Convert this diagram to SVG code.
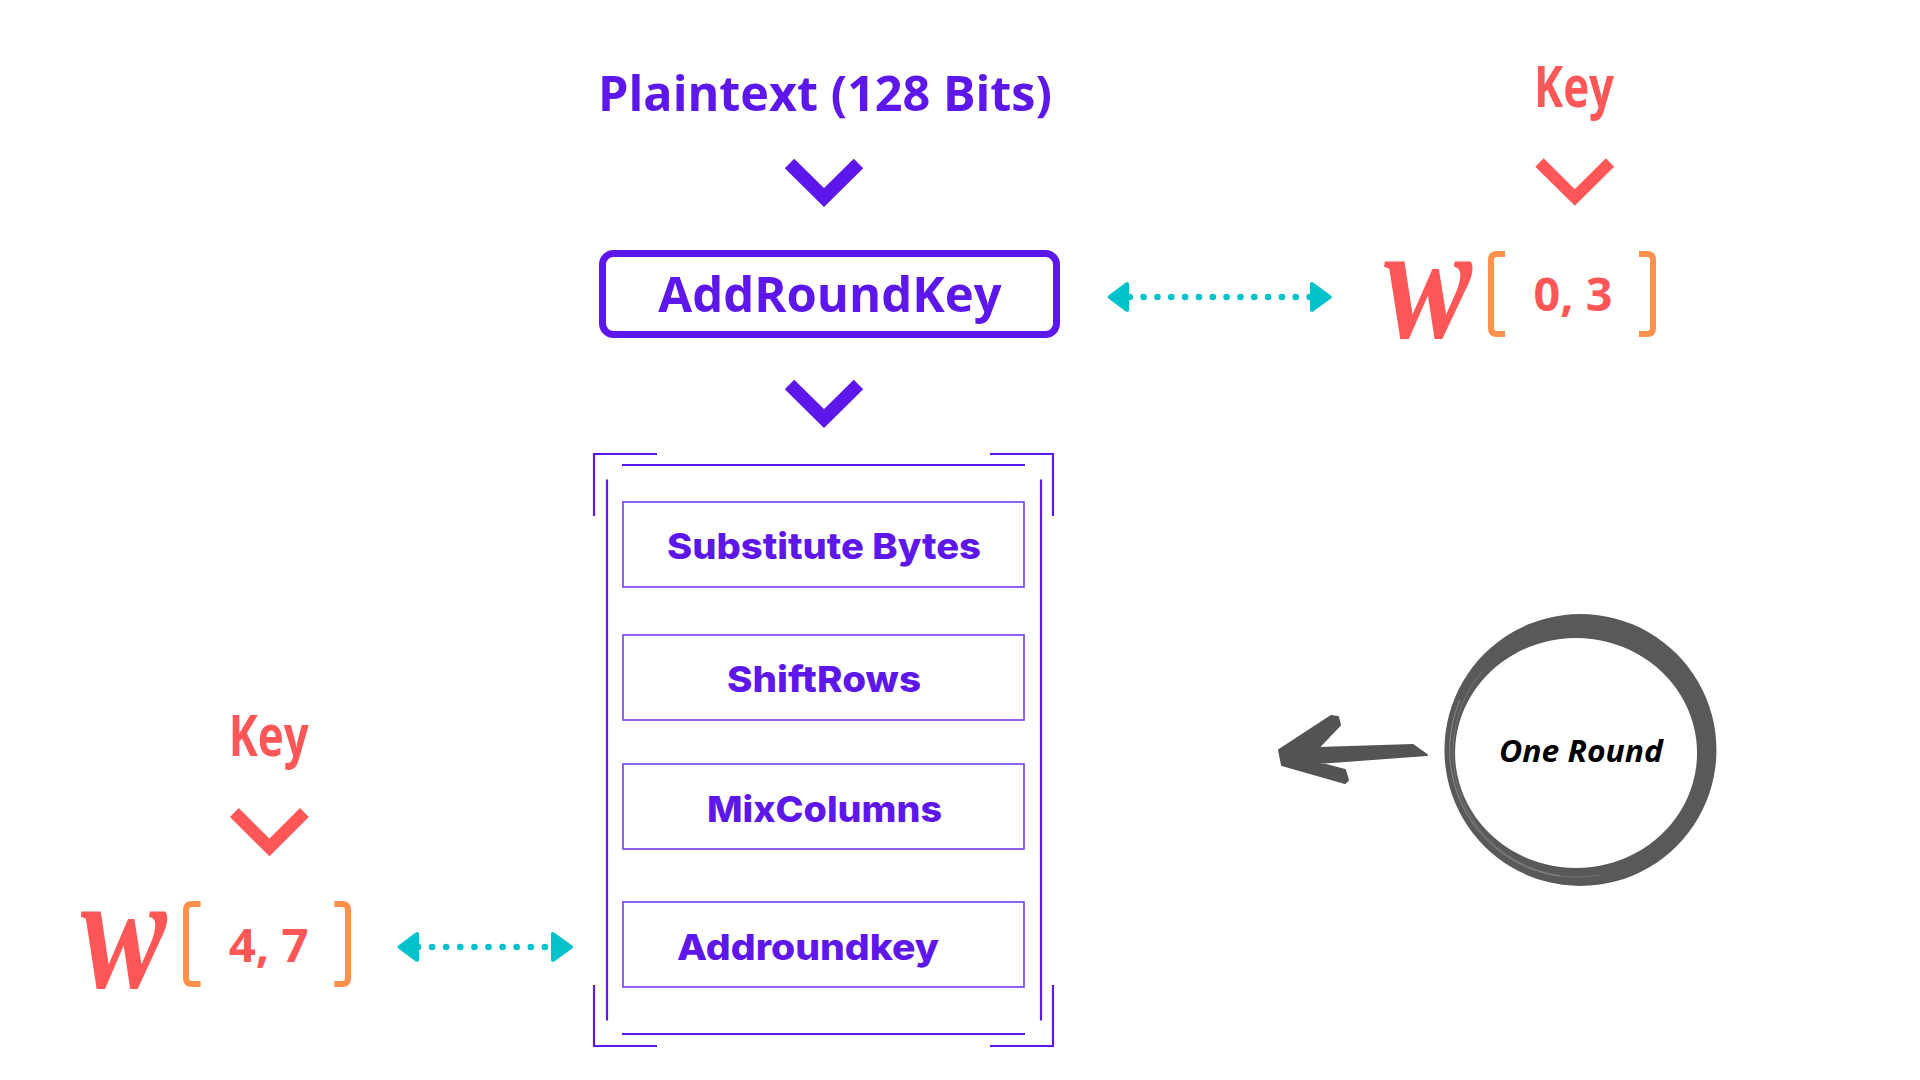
<svg xmlns="http://www.w3.org/2000/svg" width="1920" height="1080" viewBox="0 0 1920 1080">
<style>
.pt{font-family:"Open Sans","Liberation Sans",sans-serif;font-weight:700;fill:#5e17eb;text-anchor:middle}
.st{font-family:Inter,"Liberation Sans",sans-serif;font-weight:800;fill:#5e17eb;text-anchor:middle;font-size:36px}
.box{fill:none;stroke:#5e17eb;stroke-width:1.6;opacity:.85}
.frame{fill:none;stroke:#5e17eb;stroke-width:2.2}
.chev{fill:none;stroke-linejoin:miter;stroke-linecap:butt;stroke-miterlimit:10}
.key{font-family:"Open Sans","Liberation Sans",sans-serif;font-weight:700;fill:#ff5757;text-anchor:middle;font-size:58px}
.w{font-family:"Liberation Serif",serif;font-weight:700;font-style:italic;fill:#ff5757;text-anchor:middle;font-size:165px}
.br{fill:none;stroke:#ff914d;stroke-width:6;stroke-linejoin:round}
.num{font-family:"Open Sans","Liberation Sans",sans-serif;font-weight:700;fill:#ff5757;text-anchor:middle;font-size:47px}
.dots{fill:none;stroke:#00c2cb;stroke-width:6.6;stroke-linecap:round}
.ah{fill:#00c2cb;stroke:#00c2cb;stroke-width:4;stroke-linejoin:round}
</style>
<rect width="1920" height="1080" fill="#ffffff"/>

<g id="plaintext">
<text class="pt" x="825" y="111" font-size="48.5">Plaintext (128 Bits)</text>
</g>

<g id="addroundkey-initial">
<rect x="602.5" y="253.5" width="454" height="81" rx="11" fill="none" stroke="#5e17eb" stroke-width="7"/>
<text class="pt" x="830" y="312" font-size="49">AddRoundKey</text>
</g>

<g id="round-frame">
<path class="frame" d="M594,516 V454 H657 M990,454 H1053 V516 M594,985 V1046 H657 M990,1046 H1053 V985"/>
<path class="frame" d="M622,465 H1025 M622,1034 H1025 M607,479.5 V1020.5 M1041,479.5 V1020.5"/>
</g>

<g id="substitute-bytes">
<rect class="box" x="623" y="502" width="401" height="85"/>
<text class="st" x="824" y="559.4" textLength="314" lengthAdjust="spacingAndGlyphs">Substitute Bytes</text>
</g>
<g id="shiftrows">
<rect class="box" x="623" y="635" width="401" height="85"/>
<text class="st" x="824" y="692" textLength="194" lengthAdjust="spacingAndGlyphs">ShiftRows</text>
</g>
<g id="mixcolumns">
<rect class="box" x="623" y="764" width="401" height="85"/>
<text class="st" x="824.5" y="821.6" textLength="235" lengthAdjust="spacingAndGlyphs">MixColumns</text>
</g>
<g id="addroundkey-round">
<rect class="box" x="623" y="902" width="401" height="85"/>
<text class="st" x="808" y="960" textLength="262" lengthAdjust="spacingAndGlyphs">Addroundkey</text>
</g>

<g id="key-top">
<text class="key" x="1574" y="107" textLength="80" lengthAdjust="spacingAndGlyphs">Key</text>
<polyline class="chev" points="1539.5,162.5 1574.8,197.5 1610,162.5" stroke="#ff5757" stroke-width="11.7"/>
</g>
<g id="w-0-3">
<text class="w" x="1428" y="337" textLength="88" lengthAdjust="spacingAndGlyphs">w</text>
<path class="br" d="M1505,254 H1497 Q1491,254 1491,260 V328 Q1491,334 1497,334 H1505"/>
<path class="br" d="M1639,254 H1647 Q1653,254 1653,260 V328 Q1653,334 1647,334 H1639"/>
<text class="num" x="1573" y="311" textLength="79" lengthAdjust="spacingAndGlyphs">0, 3</text>
</g>

<g id="key-bottom">
<text class="key" x="268.7" y="756" textLength="80" lengthAdjust="spacingAndGlyphs">Key</text>
<polyline class="chev" points="234.4,812.5 269.4,847.5 304.4,812.5" stroke="#ff5757" stroke-width="12.5"/>
</g>
<g id="w-4-7">
<text class="w" x="123.7" y="987" textLength="86" lengthAdjust="spacingAndGlyphs">w</text>
<path class="br" d="M200.5,904 H192 Q186,904 186,910 V978 Q186,984 192,984 H200.5"/>
<path class="br" d="M334.4,904 H342 Q348,904 348,910 V978 Q348,984 342,984 H334.4"/>
<text class="num" x="268.7" y="962" textLength="80" lengthAdjust="spacingAndGlyphs">4, 7</text>
</g>

<g id="one-round">
<path d="M1580.5,614 a136,136 0 1,1 -0.1,0 Z M1576,638 a121,115 0 1,0 0.1,0 Z" fill="#595959" fill-rule="evenodd"/>
<path d="M1599.7,875.1 A125,125 0 0,1 1482.2,671.7" fill="none" stroke="#6e6e6e" stroke-width="1.3"/>
<path d="M1560,876 A127,127 0 0,1 1460,700" fill="none" stroke="#8a8a8a" stroke-width="1"/>
<text x="1581" y="762" font-family="'Open Sans','Liberation Sans',sans-serif" font-weight="700" font-style="italic" font-size="29.5" fill="#000000" text-anchor="middle" textLength="164" lengthAdjust="spacingAndGlyphs">One Round</text>
</g>

<g id="connectors">
<polyline class="chev" points="789.5,163.5 824,197.5 858.5,163.5" stroke="#5e17eb" stroke-width="13.5"/>
<polyline class="chev" points="789.5,384.5 824,418.5 858.5,384.5" stroke="#5e17eb" stroke-width="13.5"/>

<line class="dots" x1="1129.8" y1="297" x2="1309.6" y2="297" stroke-dasharray="0 13.83"/>
<polygon class="ah" points="1109.6,297 1127,284 1127,310"/>
<polygon class="ah" points="1329.8,297 1312,284 1312,310"/>

<line class="dots" x1="418" y1="947" x2="544.9" y2="947" stroke-dasharray="0 14.1"/>
<polygon class="ah" points="399.5,947 417,934 417,960"/>
<polygon class="ah" points="571,947 553,934 553,960"/>

<path d="M1279,750 L1331,716 L1338,717 L1340,725 L1318,748 L1413,745 L1427,755 L1318,763 L1345,770 L1348,780 L1345,783 L1282,765 Z" fill="#545454" stroke="#545454" stroke-width="2" stroke-linejoin="round"/>
</g>
</svg>
